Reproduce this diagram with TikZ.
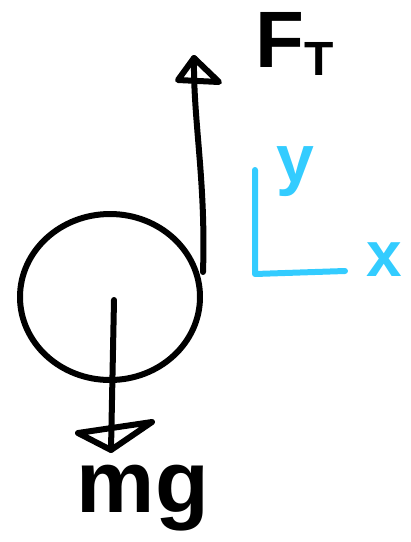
\documentclass[tikz,border=0pt]{standalone}
\usepackage{fontspec}
\setmainfont{Liberation Sans}
\definecolor{axisblue}{HTML}{33CCFF}
\begin{document}
\begin{tikzpicture}[x=1pt,y=-1pt,
  ink/.style={line width=6pt, line cap=round, line join=round},
  lbl/.style={inner sep=0pt, anchor=center, font=\bfseries}]
\useasboundingbox (0,0) rectangle (411,542);
% body
\draw[ink] (110,297) ellipse [x radius=90, y radius=83];
% tension
\coordinate (tb) at (203,272);
\coordinate (tt) at (194,58);
\draw[ink] (tb) .. controls (206,180) and (193,120) .. (tt);
\draw[ink] (tt) -- (178,80) -- (219,82) -- cycle;
% weight
\coordinate (wt) at (114,300);
\coordinate (wb) at (111,450);
\draw[ink] (wt) -- (wb);
\draw[ink] (wb) -- (78,433) -- (152,422) -- cycle;
% axes
\coordinate (ay) at (255,170);
\coordinate (ao) at (255,274);
\coordinate (ax) at (345,271);
\draw[ink, axisblue] (ay) -- (ao) -- (ax);
% labels
\node[lbl] (FT) at (295,44) {\fontsize{80}{80}\selectfont F\raisebox{-8pt}{\fontsize{48}{48}\selectfont T}};
\node[lbl, text=axisblue] (ylab) at (295,172) {\fontsize{68}{68}\selectfont y};
\node[lbl, text=axisblue] (xlab) at (384,260) {\fontsize{64}{64}\selectfont x};
\node[lbl] (mg) at (143,498) {\fontsize{88}{88}\selectfont mg};
\end{tikzpicture}
\end{document}
